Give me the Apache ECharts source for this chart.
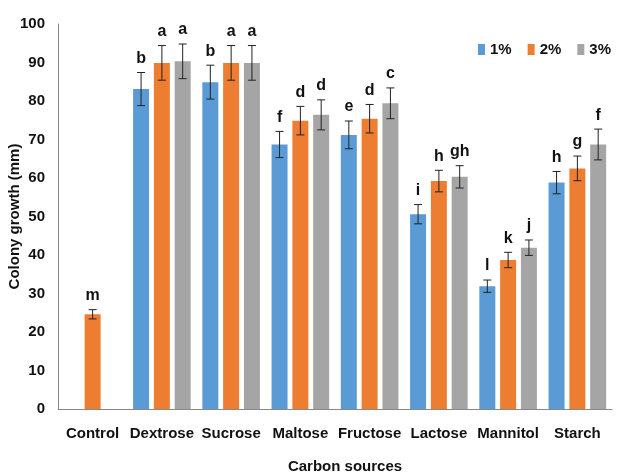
<!DOCTYPE html>
<html lang="en" style="height: 100%">
<head>
  <meta charset="utf-8">
  <title>colony_growth</title>
  <script src="https://cdn.jsdelivr.net/npm/echarts@6/dist/echarts.min.js"></script>
  <style>
    html, body { height: 100%; margin: 0; background: #fff; }
  </style>
</head>
<body>
  <div id="container" style="width: 618px; height: 474px"></div>
  <script type="text/javascript">
    var categories = ['Control', 'Dextrose', 'Sucrose', 'Maltose', 'Fructose', 'Lactose', 'Mannitol', 'Starch'];
    var pct1 = [null, 83.1, 84.9, 68.7, 71.2, 50.6, 31.9, 58.8];
    var pct2 = [24.6, 89.9, 89.9, 74.9, 75.4, 59.2, 38.7, 62.5];
    var pct3 = [null, 90.3, 89.9, 76.4, 79.4, 60.3, 41.9, 68.7];
    var err1 = [null, 4.3, 4.4, 3.4, 3.6, 2.5, 1.6, 2.9];
    var err2 = [1.2, 4.5, 4.5, 3.7, 3.7, 2.8, 2.0, 3.2];
    var err3 = [null, 4.5, 4.5, 3.9, 4.0, 2.9, 2.0, 4.0];
    var letters1 = ['', 'b', 'b', 'f', 'e', 'i', 'l', 'h'];
    var letters2 = ['m', 'a', 'a', 'd', 'd', 'h', 'k', 'g'];
    var letters3 = ['', 'a', 'a', 'd', 'c', 'gh', 'j', 'f'];

    var FONT = "'Liberation Sans', Arial, sans-serif";
    var BAR_W = 16;
    var OFFSET = BAR_W * 1.3;

    var dom = document.getElementById('container');
    var myChart = echarts.init(dom, null, { renderer: 'canvas' });

    function barData(vals) {
      return vals.map(function (v) { return v == null ? '-' : v; });
    }

    // error bars + significance letters, shifted onto the matching bar
    function errSeries(vals, errs, letters, offset) {
      var data = [];
      vals.forEach(function (v, i) {
        if (v != null) data.push([i, v, errs[i], letters[i]]);
      });
      return {
        type: 'custom',
        z: 5,
        silent: true,
        data: data,
        encode: { x: 0, y: [1] },
        renderItem: function (params, api) {
          var i = api.value(0);
          var v = api.value(1);
          var e = api.value(2);
          var top = api.coord([i, v + e]);
          var bot = api.coord([i, v - e]);
          var x = top[0] + offset;
          var cap = 4;
          var st = { stroke: '#222', lineWidth: 1 };
          return {
            type: 'group',
            children: [
              { type: 'line', shape: { x1: x, y1: top[1], x2: x, y2: bot[1] }, style: st },
              { type: 'line', shape: { x1: x - cap, y1: top[1], x2: x + cap, y2: top[1] }, style: st },
              { type: 'line', shape: { x1: x - cap, y1: bot[1], x2: x + cap, y2: bot[1] }, style: st },
              {
                type: 'text',
                style: {
                  x: x, y: top[1] - 6,
                  text: data[params.dataIndex][3],
                  align: 'center', verticalAlign: 'bottom',
                  font: 'bold 16px ' + FONT,
                  fill: '#111'
                }
              }
            ]
          };
        }
      };
    }

    var option = {
      animation: false,
      textStyle: { fontFamily: FONT },
      legend: {
        data: ['1%', '2%', '3%'],
        right: 2,
        top: 37,
        icon: 'rect',
        itemWidth: 7,
        itemHeight: 11,
        itemGap: 16,
        textStyle: { fontSize: 15, fontWeight: 'bold', color: '#111', fontFamily: FONT }
      },
      grid: { left: 58, right: 6, top: 24, bottom: 65, outerBoundsMode: 'none', containLabel: false },
      xAxis: {
        type: 'category',
        data: categories,
        name: 'Carbon sources',
        nameLocation: 'middle',
        nameGap: 50,
        nameTextStyle: { fontSize: 15, fontWeight: 'bold', color: '#111', padding: [0, 0, 0, 20] },
        axisLine: { lineStyle: { color: '#888' } },
        axisTick: { show: false },
        axisLabel: { fontSize: 15, fontWeight: 'bold', color: '#111', margin: 17, interval: 0 }
      },
      yAxis: {
        type: 'value',
        min: 0,
        max: 100,
        interval: 10,
        name: 'Colony growth (mm)',
        nameLocation: 'middle',
        nameGap: 36,
        nameMoveOverlap: false,
        nameTextStyle: { fontSize: 15, fontWeight: 'bold', color: '#111' },
        axisLine: { show: true, lineStyle: { color: '#888' } },
        axisTick: { show: false },
        splitLine: { show: false },
        axisLabel: { fontSize: 15, fontWeight: 'bold', color: '#111', margin: 13 }
      },
      series: [
        { name: '1%', type: 'bar', data: barData(pct1), barWidth: BAR_W, barGap: '30%', itemStyle: { color: '#5B9BD5' } },
        { name: '2%', type: 'bar', data: barData(pct2), barWidth: BAR_W, barGap: '30%', itemStyle: { color: '#ED7D31' } },
        { name: '3%', type: 'bar', data: barData(pct3), barWidth: BAR_W, barGap: '30%', itemStyle: { color: '#A5A5A5' } },
        errSeries(pct1, err1, letters1, -OFFSET),
        errSeries(pct2, err2, letters2, 0),
        errSeries(pct3, err3, letters3, OFFSET)
      ]
    };

    myChart.setOption(option);
    window.addEventListener('resize', myChart.resize);
  </script>
</body>
</html>
